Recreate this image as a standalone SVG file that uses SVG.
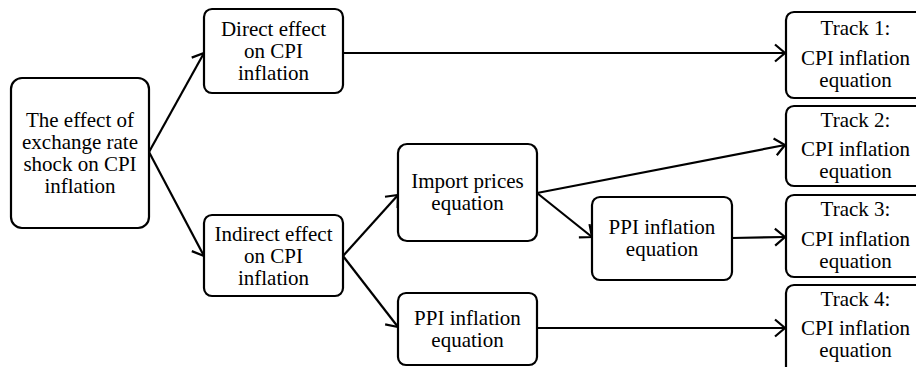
<svg xmlns="http://www.w3.org/2000/svg" width="916" height="367" viewBox="0 0 916 367">
<style>
.box{fill:#fff;stroke:#000;stroke-width:2.2}
text{font-family:'Liberation Serif','DejaVu Serif',serif;font-size:21px;fill:#000;text-anchor:middle}
.c{fill:none;stroke:#000;stroke-width:2.2;marker-end:url(#ah)}
</style>
<defs>
<marker id="ah" markerUnits="userSpaceOnUse" markerWidth="16" markerHeight="22" refX="13" refY="11" orient="auto">
<path d="M3,2.5 L13,11 L3,19.5" fill="none" stroke="#000" stroke-width="2.2"/>
</marker>
</defs>
<rect width="916" height="367" fill="#fff"/>
<g id="connectors">
<line class="c" x1="149" y1="152" x2="204" y2="53"/>
<line class="c" x1="149" y1="152" x2="204" y2="256"/>
<line class="c" x1="343" y1="53" x2="785" y2="53"/>
<line class="c" x1="343" y1="256" x2="398" y2="195"/>
<line class="c" x1="343" y1="256" x2="398" y2="327"/>
<line class="c" x1="537" y1="193" x2="785" y2="145"/>
<line class="c" x1="537" y1="193" x2="592" y2="237"/>
<line class="c" x1="732" y1="238" x2="785" y2="237"/>
<line class="c" x1="537" y1="328" x2="785" y2="328"/>
</g>
<g id="main" font-family="Liberation Serif">
<rect class="box" x="11" y="78" width="138" height="150" rx="11"/>
<text x="80" y="127">The effect of</text>
<text x="80" y="149">exchange rate</text>
<text x="80" y="171">shock on CPI</text>
<text x="80" y="193">inflation</text>
</g>
<g id="direct">
<rect class="box" x="204" y="9" width="139" height="84" rx="8"/>
<text x="273.5" y="36">Direct effect</text>
<text x="273.5" y="58">on CPI</text>
<text x="273.5" y="80">inflation</text>
</g>
<g id="indirect">
<rect class="box" x="204" y="215" width="139" height="81" rx="8"/>
<text x="273.5" y="241">Indirect effect</text>
<text x="273.5" y="263">on CPI</text>
<text x="273.5" y="285">inflation</text>
</g>
<g id="import">
<rect class="box" x="398" y="144" width="139" height="97" rx="9"/>
<text x="467.5" y="188">Import prices</text>
<text x="467.5" y="210">equation</text>
</g>
<g id="ppi-low">
<rect class="box" x="398" y="293" width="139" height="72" rx="8"/>
<text x="467.5" y="325">PPI inflation</text>
<text x="467.5" y="347">equation</text>
</g>
<g id="ppi-mid">
<rect class="box" x="592" y="197" width="140" height="83" rx="8"/>
<text x="662" y="234">PPI inflation</text>
<text x="662" y="256">equation</text>
</g>
<g id="track1">
<rect class="box" x="786" y="12" width="139" height="86" rx="8"/>
<text x="855.5" y="35">Track 1:</text>
<text x="855.5" y="65">CPI inflation</text>
<text x="855.5" y="87">equation</text>
</g>
<g id="track2">
<rect class="box" x="786" y="106" width="139" height="80" rx="8"/>
<text x="855.5" y="127">Track 2:</text>
<text x="855.5" y="156">CPI inflation</text>
<text x="855.5" y="178">equation</text>
</g>
<g id="track3">
<rect class="box" x="786" y="195" width="139" height="82" rx="8"/>
<text x="855.5" y="216">Track 3:</text>
<text x="855.5" y="246">CPI inflation</text>
<text x="855.5" y="268">equation</text>
</g>
<g id="track4">
<rect class="box" x="786" y="285" width="139" height="90" rx="8"/>
<text x="855.5" y="306">Track 4:</text>
<text x="855.5" y="335">CPI inflation</text>
<text x="855.5" y="357">equation</text>
</g>
</svg>
